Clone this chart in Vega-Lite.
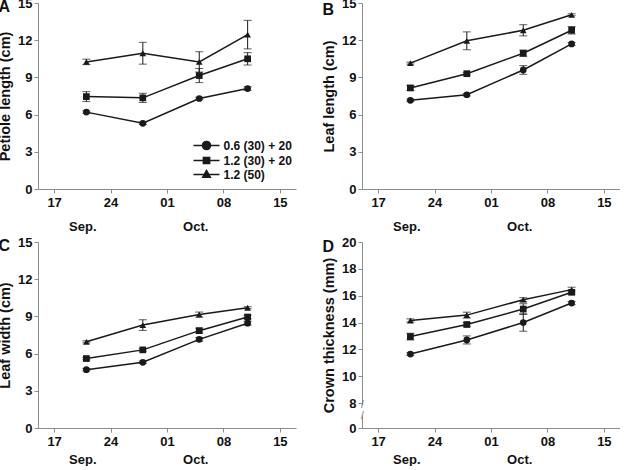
{
  "$schema": "https://vega.github.io/schema/vega-lite/v6.json",
  "background": "white",
  "padding": {"left": -3, "top": -3, "right": 0, "bottom": 0},
  "datasets": {
    "growth": [
      {"panel": "A", "trt": "0.6 (30) + 20", "date": "2013-09-21", "mean": 6.2, "se": 0.1},
      {"panel": "A", "trt": "0.6 (30) + 20", "date": "2013-09-28", "mean": 5.3, "se": 0.1},
      {"panel": "A", "trt": "0.6 (30) + 20", "date": "2013-10-05", "mean": 7.3, "se": 0.1},
      {"panel": "A", "trt": "0.6 (30) + 20", "date": "2013-10-11", "mean": 8.1, "se": 0.15},
      {"panel": "A", "trt": "1.2 (30) + 20", "date": "2013-09-21", "mean": 7.45, "se": 0.4},
      {"panel": "A", "trt": "1.2 (30) + 20", "date": "2013-09-28", "mean": 7.35, "se": 0.37},
      {"panel": "A", "trt": "1.2 (30) + 20", "date": "2013-10-05", "mean": 9.15, "se": 0.57},
      {"panel": "A", "trt": "1.2 (30) + 20", "date": "2013-10-11", "mean": 10.5, "se": 0.5},
      {"panel": "A", "trt": "1.2 (50)", "date": "2013-09-21", "mean": 10.25, "se": 0.22},
      {"panel": "A", "trt": "1.2 (50)", "date": "2013-09-28", "mean": 10.95, "se": 0.88},
      {"panel": "A", "trt": "1.2 (50)", "date": "2013-10-05", "mean": 10.25, "se": 0.82},
      {"panel": "A", "trt": "1.2 (50)", "date": "2013-10-11", "mean": 12.45, "se": 1.15},
      {"panel": "B", "trt": "0.6 (30) + 20", "date": "2013-09-21", "mean": 7.15, "se": 0.1},
      {"panel": "B", "trt": "0.6 (30) + 20", "date": "2013-09-28", "mean": 7.6, "se": 0.1},
      {"panel": "B", "trt": "0.6 (30) + 20", "date": "2013-10-05", "mean": 9.6, "se": 0.35},
      {"panel": "B", "trt": "0.6 (30) + 20", "date": "2013-10-11", "mean": 11.7, "se": 0.12},
      {"panel": "B", "trt": "1.2 (30) + 20", "date": "2013-09-21", "mean": 8.15, "se": 0.2},
      {"panel": "B", "trt": "1.2 (30) + 20", "date": "2013-09-28", "mean": 9.3, "se": 0.1},
      {"panel": "B", "trt": "1.2 (30) + 20", "date": "2013-10-05", "mean": 10.95, "se": 0.25},
      {"panel": "B", "trt": "1.2 (30) + 20", "date": "2013-10-11", "mean": 12.8, "se": 0.3},
      {"panel": "B", "trt": "1.2 (50)", "date": "2013-09-21", "mean": 10.15, "se": 0.08},
      {"panel": "B", "trt": "1.2 (50)", "date": "2013-09-28", "mean": 11.95, "se": 0.72},
      {"panel": "B", "trt": "1.2 (50)", "date": "2013-10-05", "mean": 12.8, "se": 0.45},
      {"panel": "B", "trt": "1.2 (50)", "date": "2013-10-11", "mean": 14.05, "se": 0.08},
      {"panel": "C", "trt": "0.6 (30) + 20", "date": "2013-09-21", "mean": 4.7, "se": 0.1},
      {"panel": "C", "trt": "0.6 (30) + 20", "date": "2013-09-28", "mean": 5.3, "se": 0.1},
      {"panel": "C", "trt": "0.6 (30) + 20", "date": "2013-10-05", "mean": 7.15, "se": 0.15},
      {"panel": "C", "trt": "0.6 (30) + 20", "date": "2013-10-11", "mean": 8.45, "se": 0.15},
      {"panel": "C", "trt": "1.2 (30) + 20", "date": "2013-09-21", "mean": 5.6, "se": 0.1},
      {"panel": "C", "trt": "1.2 (30) + 20", "date": "2013-09-28", "mean": 6.3, "se": 0.1},
      {"panel": "C", "trt": "1.2 (30) + 20", "date": "2013-10-05", "mean": 7.85, "se": 0.2},
      {"panel": "C", "trt": "1.2 (30) + 20", "date": "2013-10-11", "mean": 8.95, "se": 0.15},
      {"panel": "C", "trt": "1.2 (50)", "date": "2013-09-21", "mean": 6.95, "se": 0.08},
      {"panel": "C", "trt": "1.2 (50)", "date": "2013-09-28", "mean": 8.3, "se": 0.43},
      {"panel": "C", "trt": "1.2 (50)", "date": "2013-10-05", "mean": 9.15, "se": 0.2},
      {"panel": "C", "trt": "1.2 (50)", "date": "2013-10-11", "mean": 9.7, "se": 0.08},
      {"panel": "D", "trt": "0.6 (30) + 20", "date": "2013-09-21", "mean": 11.65, "se": 0.1},
      {"panel": "D", "trt": "0.6 (30) + 20", "date": "2013-09-28", "mean": 12.7, "se": 0.3},
      {"panel": "D", "trt": "0.6 (30) + 20", "date": "2013-10-05", "mean": 14.0, "se": 0.65},
      {"panel": "D", "trt": "0.6 (30) + 20", "date": "2013-10-11", "mean": 15.45, "se": 0.12},
      {"panel": "D", "trt": "1.2 (30) + 20", "date": "2013-09-21", "mean": 12.95, "se": 0.25},
      {"panel": "D", "trt": "1.2 (30) + 20", "date": "2013-09-28", "mean": 13.85, "se": 0.15},
      {"panel": "D", "trt": "1.2 (30) + 20", "date": "2013-10-05", "mean": 15.0, "se": 0.4},
      {"panel": "D", "trt": "1.2 (30) + 20", "date": "2013-10-11", "mean": 16.25, "se": 0.15},
      {"panel": "D", "trt": "1.2 (50)", "date": "2013-09-21", "mean": 14.15, "se": 0.12},
      {"panel": "D", "trt": "1.2 (50)", "date": "2013-09-28", "mean": 14.55, "se": 0.22},
      {"panel": "D", "trt": "1.2 (50)", "date": "2013-10-05", "mean": 15.7, "se": 0.15},
      {"panel": "D", "trt": "1.2 (50)", "date": "2013-10-11", "mean": 16.45, "se": 0.18}
    ]
  },
  "columns": 2,
  "spacing": {"row": 3, "column": 25},
  "concat": [
    {
      "width": 258, "height": 186,
      "data": {"name": "growth"},
      "transform": [{"filter": "datum.panel == 'A'"}],
      "encoding": {
        "x": {"field": "date", "type": "temporal", "axis": null,
          "scale": {"type": "utc", "nice": false, "domain": [{"year": 2013, "month": 9, "date": 15, "utc": true}, {"year": 2013, "month": 10, "date": 17, "utc": true}]}},
        "y": {"field": "mean", "type": "quantitative", "axis": null, "scale": {"domain": [0, 15], "nice": false}}
      },
      "layer": [
        {"mark": {"type": "errorbar", "color": "#1a1a1a", "ticks": {"size": 8}, "rule": {"strokeWidth": 1}},
         "encoding": {"yError": {"field": "se"}, "detail": {"field": "trt"}}},
        {"mark": {"type": "line", "color": "#1a1a1a", "strokeWidth": 1.5},
         "encoding": {
           "x": {"field": "date", "type": "temporal",
             "scale": {"type": "utc", "nice": false, "domain": [{"year": 2013, "month": 9, "date": 15, "utc": true}, {"year": 2013, "month": 10, "date": 17, "utc": true}]},
             "axis": {"orient": "bottom", "title": null, "labelLineHeight": 24,
               "values": [{"year": 2013, "month": 9, "date": 17, "utc": true}, {"year": 2013, "month": 9, "date": 24, "utc": true}, {"year": 2013, "month": 10, "date": 1, "utc": true}, {"year": 2013, "month": 10, "date": 8, "utc": true}, {"year": 2013, "month": 10, "date": 15, "utc": true}, {"year": 2013, "month": 9, "date": 20, "hours": 12, "utc": true}, {"year": 2013, "month": 10, "date": 4, "hours": 12, "utc": true}],
               "labelExpr": "utchours(datum.value) == 12 ? [' ', utcmonth(datum.value) == 8 ? 'Sep.' : 'Oct.'] : utcFormat(datum.value, '%d')",
               "tickOpacity": {"condition": {"test": "utchours(datum.value) == 12", "value": 0}, "value": 1}}},
           "y": {"field": "mean", "type": "quantitative", "scale": {"domain": [0, 15], "nice": false},
             "axis": {"orient": "left", "title": "Petiole length (cm)", "values": [0, 3, 6, 9, 12, 15]}},
           "detail": {"field": "trt"}}},
        {"mark": {"type": "point", "filled": true, "color": "#1a1a1a", "size": 45, "opacity": 1},
         "encoding": {
           "x": {"field": "date", "type": "temporal",
             "scale": {"type": "utc", "nice": false, "domain": [{"year": 2013, "month": 9, "date": 15, "utc": true}, {"year": 2013, "month": 10, "date": 17, "utc": true}]},
             "axis": {"orient": "top", "title": "A", "domain": false, "ticks": false, "labels": false, "titleX": -40, "titleY": 3, "titleAngle": 0, "titleAlign": "left", "titleBaseline": "middle", "titleFontSize": 16, "titlePadding": 0}},
           "shape": {"field": "trt", "type": "nominal", "legend": null,
             "scale": {"domain": ["0.6 (30) + 20", "1.2 (30) + 20", "1.2 (50)"], "range": ["circle", "square", "triangle-up"]}}}},
        {"transform": [{"filter": "false"}],
         "mark": {"type": "point", "filled": true, "color": "#1a1a1a", "stroke": "#1a1a1a", "strokeWidth": 1.5, "size": 169, "opacity": 1},
         "encoding": {"shape": {"field": "trt", "type": "nominal",
           "scale": {"domain": ["0.6 (30) + 20", "1.2 (30) + 20", "1.2 (50)"],
             "range": ["M-2,0H2M-0.62,0A0.62,0.62,0,1,1,0.62,0A0.62,0.62,0,1,1,-0.62,0Z", "M-2,0H2M-0.48,-0.48H0.48V0.48H-0.48Z", "M-2,0H2M0,-0.62L0.58,0.42H-0.58Z"]},
           "legend": {"title": null, "orient": "none", "legendX": 161, "legendY": 135, "padding": 0,
             "symbolSize": 169, "rowPadding": -2.5, "labelOffset": 9.5,
             "labelFont": "Liberation Sans", "labelFontSize": 12, "labelFontWeight": "bold", "labelColor": "#111",
             "encode": {"symbols": {"update": {"fill": {"value": "#1a1a1a"}, "stroke": {"value": "#1a1a1a"}, "strokeWidth": {"value": 1.5}, "opacity": {"value": 1}}}}}}}}
      ],
      "resolve": {"scale": {"shape": "independent"}, "axis": {"x": "independent", "y": "independent"}}
    },
    {
      "width": 258, "height": 186,
      "data": {"name": "growth"},
      "transform": [{"filter": "datum.panel == 'B'"}],
      "encoding": {
        "x": {"field": "date", "type": "temporal", "axis": null,
          "scale": {"type": "utc", "nice": false, "domain": [{"year": 2013, "month": 9, "date": 15, "utc": true}, {"year": 2013, "month": 10, "date": 17, "utc": true}]}},
        "y": {"field": "mean", "type": "quantitative", "axis": null, "scale": {"domain": [0, 15], "nice": false}}
      },
      "layer": [
        {"mark": {"type": "errorbar", "color": "#1a1a1a", "ticks": {"size": 8}, "rule": {"strokeWidth": 1}},
         "encoding": {"yError": {"field": "se"}, "detail": {"field": "trt"}}},
        {"mark": {"type": "line", "color": "#1a1a1a", "strokeWidth": 1.5},
         "encoding": {
           "x": {"field": "date", "type": "temporal",
             "scale": {"type": "utc", "nice": false, "domain": [{"year": 2013, "month": 9, "date": 15, "utc": true}, {"year": 2013, "month": 10, "date": 17, "utc": true}]},
             "axis": {"orient": "bottom", "title": null, "labelLineHeight": 24,
               "values": [{"year": 2013, "month": 9, "date": 17, "utc": true}, {"year": 2013, "month": 9, "date": 24, "utc": true}, {"year": 2013, "month": 10, "date": 1, "utc": true}, {"year": 2013, "month": 10, "date": 8, "utc": true}, {"year": 2013, "month": 10, "date": 15, "utc": true}, {"year": 2013, "month": 9, "date": 20, "hours": 12, "utc": true}, {"year": 2013, "month": 10, "date": 4, "hours": 12, "utc": true}],
               "labelExpr": "utchours(datum.value) == 12 ? [' ', utcmonth(datum.value) == 8 ? 'Sep.' : 'Oct.'] : utcFormat(datum.value, '%d')",
               "tickOpacity": {"condition": {"test": "utchours(datum.value) == 12", "value": 0}, "value": 1}}},
           "y": {"field": "mean", "type": "quantitative", "scale": {"domain": [0, 15], "nice": false},
             "axis": {"orient": "left", "title": "Leaf length (cm)", "values": [0, 3, 6, 9, 12, 15]}},
           "detail": {"field": "trt"}}},
        {"mark": {"type": "point", "filled": true, "color": "#1a1a1a", "size": 45, "opacity": 1},
         "encoding": {
           "x": {"field": "date", "type": "temporal",
             "scale": {"type": "utc", "nice": false, "domain": [{"year": 2013, "month": 9, "date": 15, "utc": true}, {"year": 2013, "month": 10, "date": 17, "utc": true}]},
             "axis": {"orient": "top", "title": "B", "domain": false, "ticks": false, "labels": false, "titleX": -40, "titleY": 6, "titleAngle": 0, "titleAlign": "left", "titleBaseline": "middle", "titleFontSize": 16, "titlePadding": 0}},
           "shape": {"field": "trt", "type": "nominal", "legend": null,
             "scale": {"domain": ["0.6 (30) + 20", "1.2 (30) + 20", "1.2 (50)"], "range": ["circle", "square", "triangle-up"]}}}}
      ],
      "resolve": {"axis": {"x": "independent", "y": "independent"}}
    },
    {
      "width": 258, "height": 186,
      "data": {"name": "growth"},
      "transform": [{"filter": "datum.panel == 'C'"}],
      "encoding": {
        "x": {"field": "date", "type": "temporal", "axis": null,
          "scale": {"type": "utc", "nice": false, "domain": [{"year": 2013, "month": 9, "date": 15, "utc": true}, {"year": 2013, "month": 10, "date": 17, "utc": true}]}},
        "y": {"field": "mean", "type": "quantitative", "axis": null, "scale": {"domain": [0, 15], "nice": false}}
      },
      "layer": [
        {"mark": {"type": "errorbar", "color": "#1a1a1a", "ticks": {"size": 8}, "rule": {"strokeWidth": 1}},
         "encoding": {"yError": {"field": "se"}, "detail": {"field": "trt"}}},
        {"mark": {"type": "line", "color": "#1a1a1a", "strokeWidth": 1.5},
         "encoding": {
           "x": {"field": "date", "type": "temporal",
             "scale": {"type": "utc", "nice": false, "domain": [{"year": 2013, "month": 9, "date": 15, "utc": true}, {"year": 2013, "month": 10, "date": 17, "utc": true}]},
             "axis": {"orient": "bottom", "title": null, "labelLineHeight": 18,
               "values": [{"year": 2013, "month": 9, "date": 17, "utc": true}, {"year": 2013, "month": 9, "date": 24, "utc": true}, {"year": 2013, "month": 10, "date": 1, "utc": true}, {"year": 2013, "month": 10, "date": 8, "utc": true}, {"year": 2013, "month": 10, "date": 15, "utc": true}, {"year": 2013, "month": 9, "date": 20, "hours": 12, "utc": true}, {"year": 2013, "month": 10, "date": 4, "hours": 12, "utc": true}],
               "labelExpr": "utchours(datum.value) == 12 ? [' ', utcmonth(datum.value) == 8 ? 'Sep.' : 'Oct.'] : utcFormat(datum.value, '%d')",
               "tickOpacity": {"condition": {"test": "utchours(datum.value) == 12", "value": 0}, "value": 1}}},
           "y": {"field": "mean", "type": "quantitative", "scale": {"domain": [0, 15], "nice": false},
             "axis": {"orient": "left", "title": "Leaf width (cm)", "values": [0, 3, 6, 9, 12, 15]}},
           "detail": {"field": "trt"}}},
        {"mark": {"type": "point", "filled": true, "color": "#1a1a1a", "size": 45, "opacity": 1},
         "encoding": {
           "x": {"field": "date", "type": "temporal",
             "scale": {"type": "utc", "nice": false, "domain": [{"year": 2013, "month": 9, "date": 15, "utc": true}, {"year": 2013, "month": 10, "date": 17, "utc": true}]},
             "axis": {"orient": "top", "title": "C", "domain": false, "ticks": false, "labels": false, "titleX": -40, "titleY": 3, "titleAngle": 0, "titleAlign": "left", "titleBaseline": "middle", "titleFontSize": 16, "titlePadding": 0}},
           "shape": {"field": "trt", "type": "nominal", "legend": null,
             "scale": {"domain": ["0.6 (30) + 20", "1.2 (30) + 20", "1.2 (50)"], "range": ["circle", "square", "triangle-up"]}}}}
      ],
      "resolve": {"axis": {"x": "independent", "y": "independent"}}
    },
    {
      "width": 258, "height": 186,
      "data": {"name": "growth"},
      "transform": [{"filter": "datum.panel == 'D'"}],
      "encoding": {
        "x": {"field": "date", "type": "temporal", "axis": null,
          "scale": {"type": "utc", "nice": false, "domain": [{"year": 2013, "month": 9, "date": 15, "utc": true}, {"year": 2013, "month": 10, "date": 17, "utc": true}]}},
        "y": {"field": "mean", "type": "quantitative", "axis": null, "scale": {"domain": [0, 8, 20], "range": [186, 161, 0], "nice": false, "zero": false}}
      },
      "layer": [
        {"mark": {"type": "errorbar", "color": "#1a1a1a", "ticks": {"size": 8}, "rule": {"strokeWidth": 1}},
         "encoding": {"yError": {"field": "se"}, "detail": {"field": "trt"}}},
        {"mark": {"type": "line", "color": "#1a1a1a", "strokeWidth": 1.5},
         "encoding": {
           "x": {"field": "date", "type": "temporal",
             "scale": {"type": "utc", "nice": false, "domain": [{"year": 2013, "month": 9, "date": 15, "utc": true}, {"year": 2013, "month": 10, "date": 17, "utc": true}]},
             "axis": {"orient": "bottom", "title": null, "labelLineHeight": 18,
               "values": [{"year": 2013, "month": 9, "date": 17, "utc": true}, {"year": 2013, "month": 9, "date": 24, "utc": true}, {"year": 2013, "month": 10, "date": 1, "utc": true}, {"year": 2013, "month": 10, "date": 8, "utc": true}, {"year": 2013, "month": 10, "date": 15, "utc": true}, {"year": 2013, "month": 9, "date": 20, "hours": 12, "utc": true}, {"year": 2013, "month": 10, "date": 4, "hours": 12, "utc": true}],
               "labelExpr": "utchours(datum.value) == 12 ? [' ', utcmonth(datum.value) == 8 ? 'Sep.' : 'Oct.'] : utcFormat(datum.value, '%d')",
               "tickOpacity": {"condition": {"test": "utchours(datum.value) == 12", "value": 0}, "value": 1}}},
           "y": {"field": "mean", "type": "quantitative", "scale": {"domain": [0, 8, 20], "range": [186, 161, 0], "nice": false, "zero": false},
             "axis": {"orient": "left", "title": "Crown thickness (mm)", "values": [0, 8, 10, 12, 14, 16, 18, 20], "labelOverlap": false, "domainDash": [13, 10, 400]}},
           "detail": {"field": "trt"}}},
        {"mark": {"type": "point", "filled": true, "color": "#1a1a1a", "size": 45, "opacity": 1},
         "encoding": {
           "x": {"field": "date", "type": "temporal",
             "scale": {"type": "utc", "nice": false, "domain": [{"year": 2013, "month": 9, "date": 15, "utc": true}, {"year": 2013, "month": 10, "date": 17, "utc": true}]},
             "axis": {"orient": "top", "title": "D", "domain": false, "ticks": false, "labels": false, "titleX": -40, "titleY": 4, "titleAngle": 0, "titleAlign": "left", "titleBaseline": "middle", "titleFontSize": 16, "titlePadding": 0}},
           "shape": {"field": "trt", "type": "nominal", "legend": null,
             "scale": {"domain": ["0.6 (30) + 20", "1.2 (30) + 20", "1.2 (50)"], "range": ["circle", "square", "triangle-up"]}}}},
        {"mark": {"type": "point", "opacity": 0},
         "encoding": {
           "y": {"field": "mean", "type": "quantitative", "scale": {"domain": [0, 8, 20], "range": [186, 161, 0], "nice": false, "zero": false},
             "axis": {"orient": "left", "title": null, "values": [7.6, 3.9], "labelExpr": "'/'", "domain": false, "ticks": false, "tickSize": 0, "labelPadding": 0, "labelAlign": "center", "labelBaseline": "middle", "labelFontSize": 10, "labelFontWeight": "normal", "labelColor": "#777", "labelOverlap": false}}}}
      ],
      "resolve": {"axis": {"x": "independent", "y": "independent"}}
    }
  ],
  "config": {
    "font": "Liberation Sans",
    "view": {"stroke": null},
    "axis": {"labelFont": "Liberation Sans", "labelFontSize": 13, "labelFontWeight": "bold", "labelColor": "#111",
      "titleFont": "Liberation Sans", "titleFontSize": 14.5, "titleFontWeight": "bold", "titleColor": "#111",
      "domainColor": "#8c8c8c", "tickColor": "#8c8c8c", "tickSize": 4, "grid": false, "labelPadding": 2, "titlePadding": 5},
    "axisX": {"labelPadding": 3, "labelOverlap": false, "labelFlush": false, "labelBound": false}
  }
}
